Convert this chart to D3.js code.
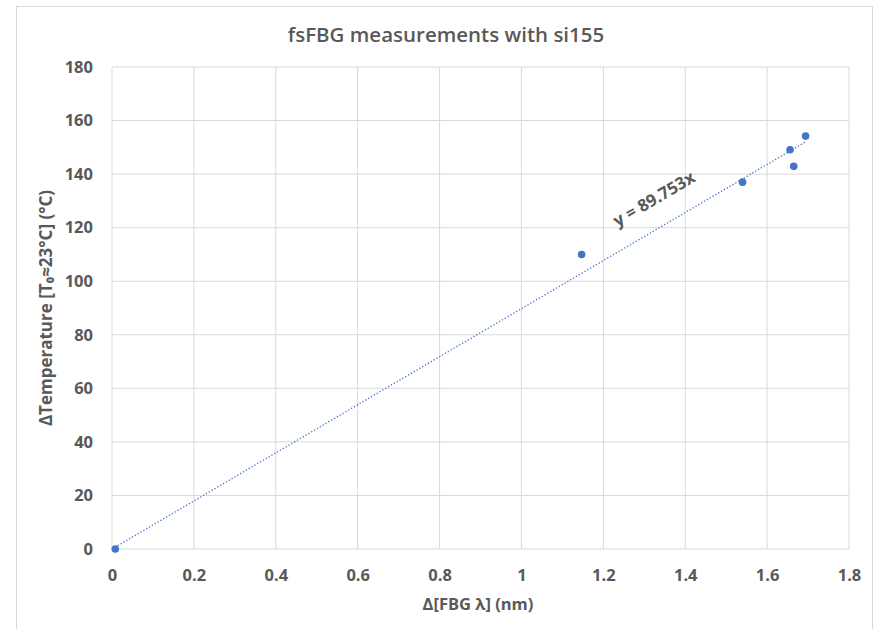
<!DOCTYPE html>
<html><head><meta charset="utf-8">
<script src="https://cdn.jsdelivr.net/npm/d3@7"></script>
<style>
body{margin:0;background:#fff;}
text{font-family:"Open Sans","Noto Sans",sans-serif;}
</style></head>
<body><svg id="c" width="877" height="629"></svg>
<script>
const xValues = [0.008, 1.147, 1.540, 1.656, 1.665, 1.694];
const yValues = [0, 110.0, 137.0, 149.1, 142.9, 154.2];
const slope = 89.753;
const xTicks = [0,0.2,0.4,0.6,0.8,1,1.2,1.4,1.6,1.8];
const yTicks = [0,20,40,60,80,100,120,140,160,180];
const title = "fsFBG measurements with si155";
const xTitle = "Δ[FBG λ] (nm)";
const yTitle = "ΔTemperature [T₀≈23°C] (°C)";
const eqLabel = "y = 89.753x";

const svg = d3.select("#c");
svg.append("rect").attr("x",16.5).attr("y",6.5).attr("width",856).attr("height",640)
  .attr("fill","#fff").attr("stroke","#d9d9d9").attr("stroke-width",1);

const x = d3.scaleLinear().domain([0,1.8]).range([112,849]);
const y = d3.scaleLinear().domain([0,180]).range([549,67]);

// gridlines
svg.append("g").selectAll("line.v").data(xTicks).join("line")
  .attr("x1",d=>x(d)).attr("x2",d=>x(d)).attr("y1",y(0)).attr("y2",y(180))
  .attr("stroke","#d9d9d9").attr("stroke-width",1);
svg.append("g").selectAll("line.h").data(yTicks).join("line")
  .attr("x1",x(0)).attr("x2",x(1.8)).attr("y1",d=>y(d)).attr("y2",d=>y(d))
  .attr("stroke","#d9d9d9").attr("stroke-width",1);

// axes labels via d3 axes
const xAxis = svg.append("g").attr("transform",`translate(0,${y(0)})`)
  .call(d3.axisBottom(x).tickValues(xTicks).tickFormat(d3.format("~g")).tickSize(0).tickPadding(20));
const yAxis = svg.append("g").attr("transform",`translate(${x(0)},0)`)
  .call(d3.axisLeft(y).tickValues(yTicks).tickSize(0).tickPadding(19));
[xAxis,yAxis].forEach(a=>{
  a.select(".domain").remove();
  a.selectAll("text").attr("fill","#595959").attr("font-size","16.5px").attr("font-weight","bold")
   .attr("font-family","'Open Sans',sans-serif");
});

// trendline
svg.append("line")
  .attr("x1",x(0)).attr("y1",y(0))
  .attr("x2",x(d3.max(xValues))).attr("y2",y(slope*d3.max(xValues)))
  .attr("stroke","#4472c4").attr("stroke-width",1.3).attr("stroke-dasharray","1.3,2");

// points
svg.append("g").selectAll("circle").data(xValues).join("circle")
  .attr("cx",(d)=>x(d)).attr("cy",(d,i)=>y(yValues[i])).attr("r",3.8).attr("fill","#4472c4");

// equation label
const ang = Math.atan2(y(0)-y(slope), x(1)-x(0))*180/Math.PI;
svg.append("text").attr("transform",`translate(657,204) rotate(${-ang})`)
  .attr("text-anchor","middle").attr("fill","#595959").attr("font-size","17px").attr("font-weight","bold")
  .text(eqLabel);

// titles
svg.append("text").attr("x",446).attr("y",42).attr("text-anchor","middle")
  .attr("fill","#595959").attr("font-size","20.5px").attr("font-weight","600").text(title);
svg.append("text").attr("x",478).attr("y",610).attr("text-anchor","middle")
  .attr("fill","#595959").attr("font-size","16.5px").attr("font-weight","bold").text(xTitle);
svg.append("text").attr("transform",`translate(52,${(y(0)+y(180))/2}) rotate(-90)`).attr("text-anchor","middle")
  .attr("fill","#595959").attr("font-size","17px").attr("font-weight","bold").text(yTitle);
</script></body></html>
